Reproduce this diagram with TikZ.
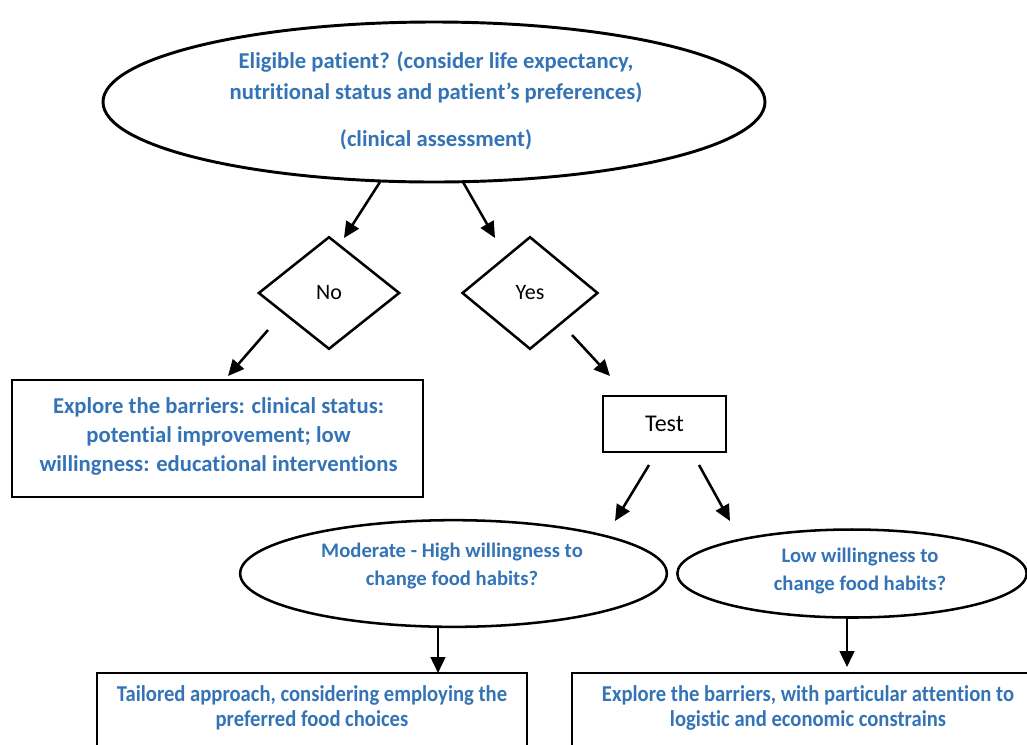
\documentclass[tikz,border=0pt]{standalone}
\usepackage{fontspec}
\setmainfont{Carlito}[Ligatures=NoCommon]
\usetikzlibrary{shapes.geometric,arrows.meta}
\definecolor{txtblue}{RGB}{52,116,182}
\tikzset{
  shp/.style={draw=black, line width=1.9pt, inner sep=0pt, fill=white},
  oval/.style={shp, ellipse},
  dia/.style={shp, diamond},
  boxx/.style={shp, rectangle},
  bluetxt/.style={text=txtblue, font=\bfseries\fontsize{17}{23}\selectfont, align=center},
  midtxt/.style={text=txtblue, font=\bfseries\fontsize{15.5}{20}\selectfont, align=center},
  plaintxt/.style={text=black, font=\fontsize{16.5}{18}\selectfont},
  arr/.style={line width=1.9pt, -{Triangle[length=12pt,width=11pt]}},
}
\newcommand{\narrow}[1]{\scalebox{0.91}[1]{#1}}
\begin{document}
\begin{tikzpicture}[x=0.75pt,y=-0.75pt]
\useasboundingbox (0,0) rectangle (1027,744);
\clip (0,0) rectangle (1027,744);
% top ellipse
\node[oval, minimum width=496.5pt, minimum height=120pt, line width=2.2pt] (top) at (434,102) {};
\node[bluetxt] (t1) at (436,62) {Eligible patient? (consider life expectancy,};
\node[bluetxt] (t2) at (436,93) {nutritional status and patient’s preferences)};
\node[bluetxt] (t3) at (436,140) {(clinical assessment)};
% diamonds
\node[dia, minimum width=106pt, minimum height=84.5pt, plaintxt] (no) at (329,293) {No};
\node[dia, minimum width=102pt, minimum height=84.5pt, plaintxt] (yes) at (530,293) {Yes};
% left box
\node[boxx, minimum width=308pt, minimum height=87.5pt] (lbox) at (217.5,438.5) {};
\node[bluetxt] (l1) at (218.5,407) {Explore the barriers: clinical status:};
\node[bluetxt] (l2) at (218.5,436) {potential improvement; low};
\node[bluetxt] (l3) at (218.5,465) {willingness: educational interventions};
% test box
\node[boxx, minimum width=92pt, minimum height=42pt, plaintxt, font=\fontsize{18}{20}\selectfont] (test) at (664.5,424) {Test};
% moderate / low ellipses
\node[oval, minimum width=320pt, minimum height=80pt] (mod) at (453.5,573.5) {};
\node[midtxt] (m1) at (452,552) {Moderate - High willingness to};
\node[midtxt] (m2) at (452,580) {change food habits?};
\node[oval, minimum width=262pt, minimum height=66pt] (low) at (852,573.5) {};
\node[midtxt] (w1) at (860,557) {Low willingness to};
\node[midtxt] (w2) at (860,585) {change food habits?};
% bottom boxes (cut by the page edge)
\node[boxx, minimum width=322.5pt, minimum height=90pt] (bl) at (312,733) {};
\node[bluetxt] (b1) at (312,695) {\narrow{Tailored approach, considering employing the}};
\node[bluetxt] (b2) at (312,720) {\narrow{preferred food choices}};
\node[boxx, minimum width=360pt, minimum height=90pt] (br) at (812,733) {};
\node[bluetxt] (r1) at (808,695) {\narrow{Explore the barriers, with particular attention to}};
\node[bluetxt] (r2) at (808,720) {\narrow{logistic and economic constrains}};
% arrow end points
\coordinate (a1s) at (380,182); \coordinate (a1e) at (344,238);
\coordinate (a2s) at (463,182); \coordinate (a2e) at (495,238);
\coordinate (a3s) at (268,330); \coordinate (a3e) at (228,376);
\coordinate (a4s) at (572,335); \coordinate (a4e) at (610,376);
\coordinate (a5s) at (649,465); \coordinate (a5e) at (615,521);
\coordinate (a6s) at (699,465); \coordinate (a6e) at (730,521);
\coordinate (a7s) at (438,627); \coordinate (a7e) at (438,673);
\coordinate (a8s) at (847,617); \coordinate (a8e) at (847,667);
\draw[arr] (a1s) -- (a1e);
\draw[arr] (a2s) -- (a2e);
\draw[arr] (a3s) -- (a3e);
\draw[arr] (a4s) -- (a4e);
\draw[arr] (a5s) -- (a5e);
\draw[arr] (a6s) -- (a6e);
\draw[arr] (a7s) -- (a7e);
\draw[arr] (a8s) -- (a8e);
\end{tikzpicture}
\end{document}
